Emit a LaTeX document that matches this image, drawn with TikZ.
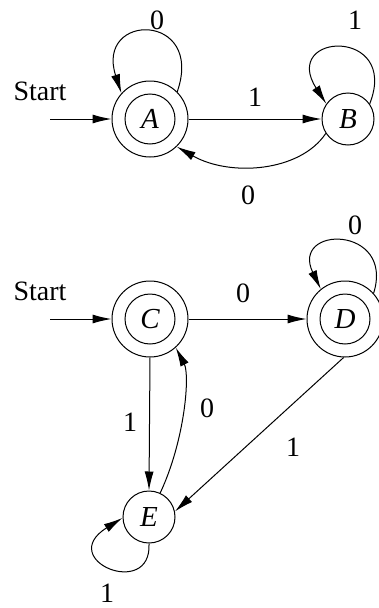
\documentclass[tikz,border=0pt]{standalone}
\usepackage{fontspec}
\setmainfont{Liberation Serif}
\usetikzlibrary{arrows.meta}
\tikzset{
  state/.style={circle, draw, line width=1pt, minimum size=52pt, inner sep=0pt,
    font=\fontsize{29}{32}\selectfont\itshape},
  accept/.style={state, minimum size=76pt,
    path picture={\draw[line width=1pt] (path picture bounding box.center) circle (25pt);}},
  edge/.style={draw, line width=1pt, -{Latex[length=19pt,width=9pt]}},
  lbl/.style={font=\fontsize{28}{32}\selectfont, inner sep=0pt}
}
\begin{document}
\begin{tikzpicture}[x=1pt,y=-1pt]
\useasboundingbox (0,0) rectangle (379,608);
% upper automaton
\node[accept] (A) at (150,119) {A};
\node[state] (B) at (348,119) {B};
\node[lbl] (s1) at (40,91) {Start};
\coordinate (s1a) at (50,119);
\draw[edge] (s1a) -- (A);
\draw[edge] (A) -- (B);
\node[lbl] (lab) at (255,97) {1};
\draw[edge] (A.45) .. controls (205,12) and (95,12) .. (A.138);
\node[lbl] (laa) at (157,20) {0};
\draw[edge] (B.35) .. controls (400,27) and (280,32) .. (B.145);
\node[lbl] (lbb) at (355,20) {1};
\draw[edge] (B.213) .. controls (300,172) and (230,177) .. (A.314);
\node[lbl] (lba) at (248,195) {0};
% lower automaton
\node[accept] (C) at (150,319) {C};
\node[accept] (D) at (345,319) {D};
\node[state] (E) at (149,517) {E};
\node[lbl] (s2) at (40,291) {Start};
\coordinate (s2a) at (50,319);
\draw[edge] (s2a) -- (C);
\draw[edge] (C) -- (D);
\node[lbl] (lcd) at (243,293) {0};
\draw[edge] (D.42) .. controls (395,225) and (290,225) .. (D.129);
\node[lbl] (ldd) at (355,225) {0};
\draw[edge] (C.south) -- (E.north);
\node[lbl] (lce) at (130,422) {1};
\draw[edge] (E.65) .. controls (185,440) and (190,375) .. (C.312);
\node[lbl] (lec) at (207,408) {0};
\draw[edge] (D.268) -- (E.12);
\node[lbl] (lde) at (293,447) {1};
\draw[edge] (E.270) .. controls (152,600) and (55,560) .. (E.182);
\node[lbl] (lee) at (107,593) {1};
\end{tikzpicture}
\end{document}
